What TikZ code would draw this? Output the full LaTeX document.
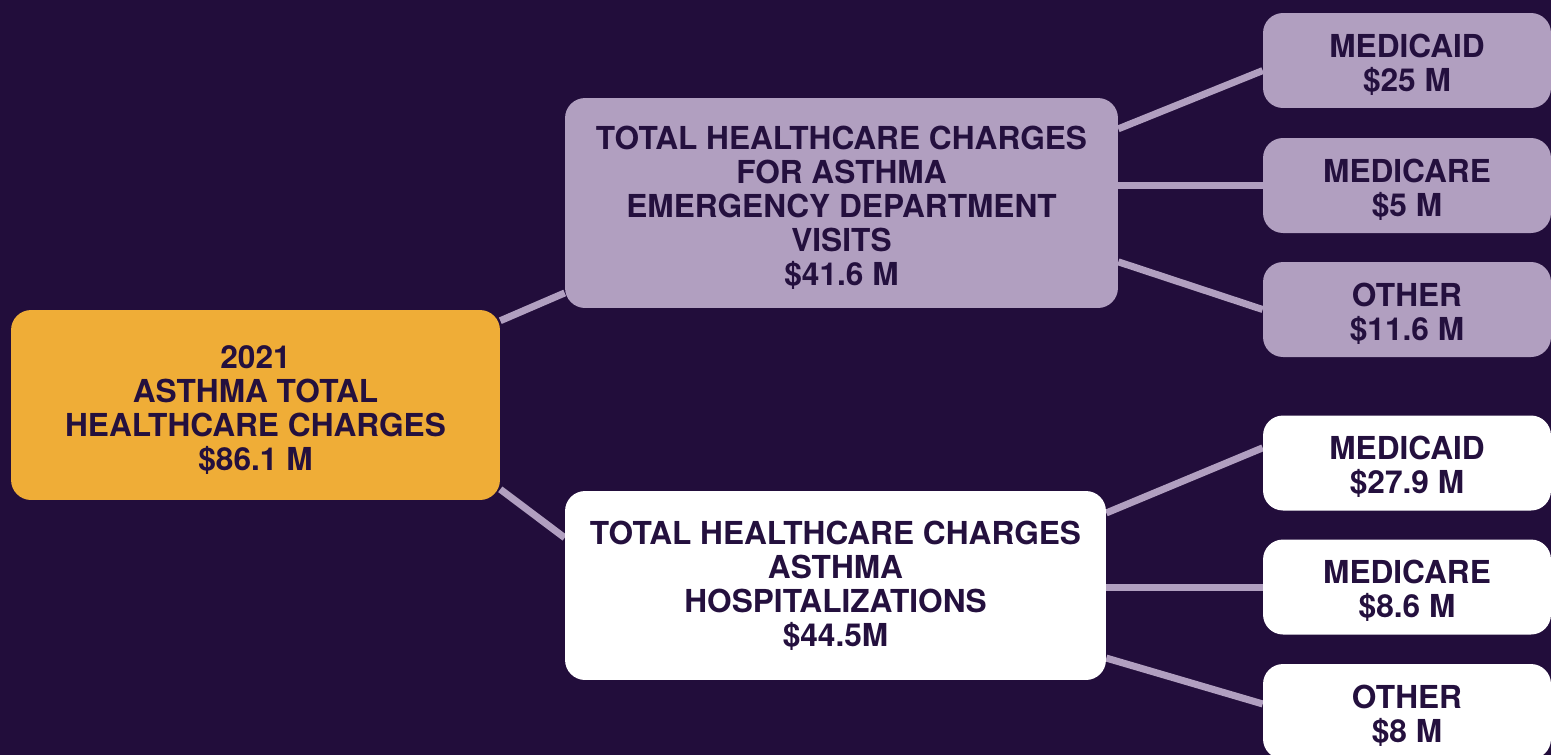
\documentclass[tikz,border=0pt]{standalone}
\usepackage{fontspec}
\setmainfont{TeX Gyre Heros}
\usetikzlibrary{backgrounds}
\definecolor{bgpurple}{HTML}{220D3B}
\definecolor{lavender}{HTML}{B19FC0}
\definecolor{mustard}{HTML}{EFAD37}
\definecolor{inkpurple}{HTML}{24103E}

\begin{document}
\begin{tikzpicture}[x=0.02cm, y=-0.02cm,
    box/.style={rectangle, rounded corners=0.4cm, align=center, text=inkpurple, inner sep=0pt,
      font=\fontsize{18pt}{19.3pt}\selectfont\bfseries},
    paybox/.style={box, minimum width=5.76cm, minimum height=1.9cm, text height=37.2pt},
    link/.style={draw=lavender, line width=4pt}]
    \useasboundingbox (0,0) rectangle (1551,755);

    \node[box, fill=mustard, minimum width=9.78cm, minimum height=3.8cm, text height=76.5pt] (root) at (255.5,405)
      {2021\\ASTHMA TOTAL\\HEALTHCARE CHARGES\\\$86.1 M};
    \node[box, fill=lavender, minimum width=11.06cm, minimum height=4.2cm, text height=95.8pt] (edvisits) at (841.5,203)
      {TOTAL HEALTHCARE CHARGES\\FOR ASTHMA\\EMERGENCY DEPARTMENT\\VISITS\\\$41.6 M};
    \node[box, fill=white, minimum width=10.82cm, minimum height=3.78cm] (hosp) at (835.5,585.5)
      {TOTAL HEALTHCARE CHARGES\\ASTHMA\\HOSPITALIZATIONS\\\$44.5M};

    \node[paybox, fill=lavender] (edmedicaid) at (1407,60.5) {MEDICAID\\\$25 M};
    \node[paybox, fill=lavender] (edmedicare) at (1407,185.5) {MEDICARE\\\$5 M};
    \node[paybox, fill=lavender] (edother) at (1407,309.5) {OTHER\\\$11.6 M};

    \node[paybox, fill=white] (hospmedicaid) at (1407,463) {MEDICAID\\\$27.9 M};
    \node[paybox, fill=white] (hospmedicare) at (1407,587) {MEDICARE\\\$8.6 M};
    \node[paybox, fill=white] (hospother) at (1407,711.5) {OTHER\\\$8 M};

    \begin{pgfonlayer}{background}
      \fill[bgpurple] (0,0) rectangle (1551,755);
      \draw[link] (root.19) -- (edvisits.198);
      \draw[link] (root.-19) -- (hosp.170);
      \draw[link] (edvisits.15) -- (edmedicaid.184);
      \draw[link] (edvisits.east |- edmedicare.west) -- (edmedicare.west);
      \draw[link] (edvisits.-12) -- (edother.west);
      \draw[link] (hosp.15) -- (hospmedicaid.174);
      \draw[link] (hosp.east |- hospmedicare.west) -- (hospmedicare.west);
      \draw[link] (hosp.-15) -- (hospother.177);
    \end{pgfonlayer}
  \end{tikzpicture}
\end{document}
